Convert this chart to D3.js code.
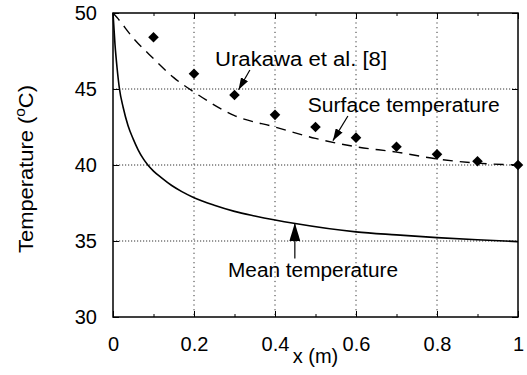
<html>
  <head>
    <style>
      body { margin: 0; background: #fff; }
      text { font-family: "Liberation Sans", Arial, sans-serif; fill: #000; }
      .tick-text { font-size: 20px; }
      .note { font-size: 20px; }
    </style>
  </head>
  <body>
    <div id="chart"></div>
    <script src="https://cdn.jsdelivr.net/npm/d3@7"></script>
    <script>
      // experimental points (Urakawa et al.)
      var expX = [0.1, 0.2, 0.3, 0.4, 0.5, 0.6, 0.7, 0.8, 0.9, 1.0];
      var expT = [48.4, 46.0, 44.6, 43.3, 42.5, 41.8, 41.2, 40.7, 40.25, 40.0];

      // surface temperature (dashed)
      var surfX = [0, 0.01, 0.05, 0.1, 0.15, 0.2, 0.3, 0.4, 0.5, 0.6, 0.7, 0.8, 0.9, 1.0];
      var surfT = [50, 49.7, 48.35, 47.0, 45.75, 44.8, 43.25, 42.5, 41.75, 41.2, 40.85, 40.4, 40.12, 40.0];

      // mean temperature (solid)
      var meanX = [0, 0.005, 0.01, 0.016, 0.025, 0.037, 0.05, 0.062, 0.075, 0.086, 0.1, 0.12, 0.145, 0.17, 0.2, 0.25, 0.3, 0.35, 0.45, 0.6, 0.7, 0.8, 0.9, 1.0];
      var meanT = [50, 47.9, 46.4, 45.0, 43.8, 42.6, 41.7, 41.0, 40.4, 40.0, 39.6, 39.15, 38.65, 38.25, 37.85, 37.35, 36.95, 36.65, 36.15, 35.6, 35.4, 35.22, 35.08, 34.96];

      var xTicks = [0, 0.2, 0.4, 0.6, 0.8, 1];
      var xMinor = [0.1, 0.3, 0.5, 0.7, 0.9];
      var yTicks = [30, 35, 40, 45, 50];
      var xTickLabels = ["0", "0.2", "0.4", "0.6", "0.8", "1"];

      var width = 527, height = 375;
      var pLeft = 113, pRight = 518, pTop = 13, pBottom = 317;

      var svg = d3.select("#chart").append("svg")
        .attr("width", width)
        .attr("height", height);

      var x = d3.scaleLinear().domain([0, 1]).range([pLeft, pRight]);
      var y = d3.scaleLinear().domain([30, 50]).range([pBottom, pTop]);

      // dotted grid
      svg.append("g").selectAll("line")
        .data(yTicks.slice(1, -1)).enter().append("line")
        .attr("x1", pLeft).attr("x2", pRight)
        .attr("y1", d => y(d)).attr("y2", d => y(d))
        .attr("stroke", "#333").attr("stroke-width", 1)
        .attr("stroke-dasharray", "1.2,1.8");
      svg.append("g").selectAll("line")
        .data(xTicks.slice(1, -1)).enter().append("line")
        .attr("x1", d => x(d)).attr("x2", d => x(d))
        .attr("y1", pTop).attr("y2", pBottom)
        .attr("stroke", "#333").attr("stroke-width", 1)
        .attr("stroke-dasharray", "1.2,3.5");

      // axes with inward ticks
      var xAxis = d3.axisBottom(x).tickValues(xTicks)
        .tickFormat((d, i) => xTickLabels[i]).tickSize(-6).tickPadding(20);
      var gx = svg.append("g").attr("transform", "translate(0," + pBottom + ")").call(xAxis);
      var yAxis = d3.axisLeft(y).tickValues(yTicks).tickSize(-6).tickPadding(16);
      var gy = svg.append("g").attr("transform", "translate(" + pLeft + ",0)").call(yAxis);
      [gx, gy].forEach(function(g) {
        g.select(".domain").remove();
        g.attr("font-size", null).attr("font-family", null);
        g.selectAll("text").attr("class", "tick-text");
        g.selectAll("line").attr("stroke", "#000");
      });
      svg.append("g").attr("transform", "translate(0," + pTop + ")")
        .call(d3.axisTop(x).tickValues(xTicks).tickSize(-6).tickFormat(""))
        .call(g => g.select(".domain").remove());
      svg.append("g").attr("transform", "translate(" + pRight + ",0)")
        .call(d3.axisRight(y).tickValues(yTicks).tickSize(-6).tickFormat(""))
        .call(g => g.select(".domain").remove());
      // minor x ticks
      svg.append("g").attr("transform", "translate(0," + pBottom + ")")
        .call(d3.axisBottom(x).tickValues(xMinor).tickSize(-3).tickFormat(""))
        .call(g => g.select(".domain").remove());
      svg.append("g").attr("transform", "translate(0," + pTop + ")")
        .call(d3.axisTop(x).tickValues(xMinor).tickSize(-3).tickFormat(""))
        .call(g => g.select(".domain").remove());

      // frame
      svg.append("rect")
        .attr("x", pLeft).attr("y", pTop)
        .attr("width", pRight - pLeft).attr("height", pBottom - pTop)
        .attr("fill", "none").attr("stroke", "#000").attr("stroke-width", 1.5);

      // curves
      var line = d3.line().x(d => x(d[0])).y(d => y(d[1])).curve(d3.curveMonotoneX);
      svg.append("path")
        .datum(surfX.map((v, i) => [v, surfT[i]]))
        .attr("d", line)
        .attr("fill", "none").attr("stroke", "#000").attr("stroke-width", 1.4)
        .attr("stroke-dasharray", "10,7");
      svg.append("path")
        .datum(meanX.map((v, i) => [v, meanT[i]]))
        .attr("d", line)
        .attr("fill", "none").attr("stroke", "#000").attr("stroke-width", 1.6);

      // diamonds
      var diamond = d3.symbol(d3.symbolSquare, 56);
      svg.append("g").selectAll("path")
        .data(expX.map((v, i) => [v, expT[i]])).enter().append("path")
        .attr("d", diamond)
        .attr("transform", d => "translate(" + x(d[0]) + "," + y(d[1]) + ") rotate(45)")
        .attr("fill", "#000");

      // arrowheads
      var defs = svg.append("defs");
      function marker(id, w, l) {
        defs.append("marker")
          .attr("id", id).attr("markerUnits", "userSpaceOnUse")
          .attr("viewBox", "0 " + (-w / 2) + " " + l + " " + w)
          .attr("refX", l).attr("refY", 0)
          .attr("markerWidth", l).attr("markerHeight", w)
          .attr("orient", "auto")
          .append("path")
          .attr("d", "M0," + (-w / 2) + "L" + l + ",0L0," + (w / 2) + "Z")
          .attr("fill", "#000");
      }
      marker("ah-small", 8, 12);
      marker("ah-big", 11, 18);

      function arrow(x0, y0, x1, y1, id) {
        svg.append("line")
          .attr("x1", x(x0)).attr("y1", y(y0))
          .attr("x2", x(x1)).attr("y2", y(y1))
          .attr("stroke", "#000").attr("stroke-width", 1.2)
          .attr("marker-end", "url(#" + id + ")");
      }
      arrow(0.338, 46.25, 0.31, 44.95, "ah-small");
      arrow(0.58, 43.22, 0.543, 41.6, "ah-small");
      arrow(0.449, 33.85, 0.449, 36.18, "ah-big");

      // annotation texts
      function note(xv, yv, txt, len) {
        svg.append("text").attr("class", "note")
          .attr("x", x(xv)).attr("y", y(yv))
          .attr("textLength", len).attr("lengthAdjust", "spacingAndGlyphs")
          .text(txt);
      }
      note(0.252, 46.5, "Urakawa et al. [8]", 172);
      note(0.481, 43.49, "Surface temperature", 192);
      note(0.284, 32.63, "Mean temperature", 170);

      // axis titles
      svg.append("text").attr("class", "note")
        .attr("x", x(0.5)).attr("y", 363)
        .attr("text-anchor", "middle")
        .text("x (m)");
      var yl = svg.append("text").attr("class", "note")
        .attr("transform", "translate(33,169) rotate(-90)")
        .attr("text-anchor", "middle")
        .attr("textLength", 168).attr("lengthAdjust", "spacingAndGlyphs");
      yl.append("tspan").text("Temperature (");
      yl.append("tspan").attr("dy", -8).attr("font-size", 14).text("o");
      yl.append("tspan").attr("dy", 8).text("C)");
    </script>
  </body>
</html>
